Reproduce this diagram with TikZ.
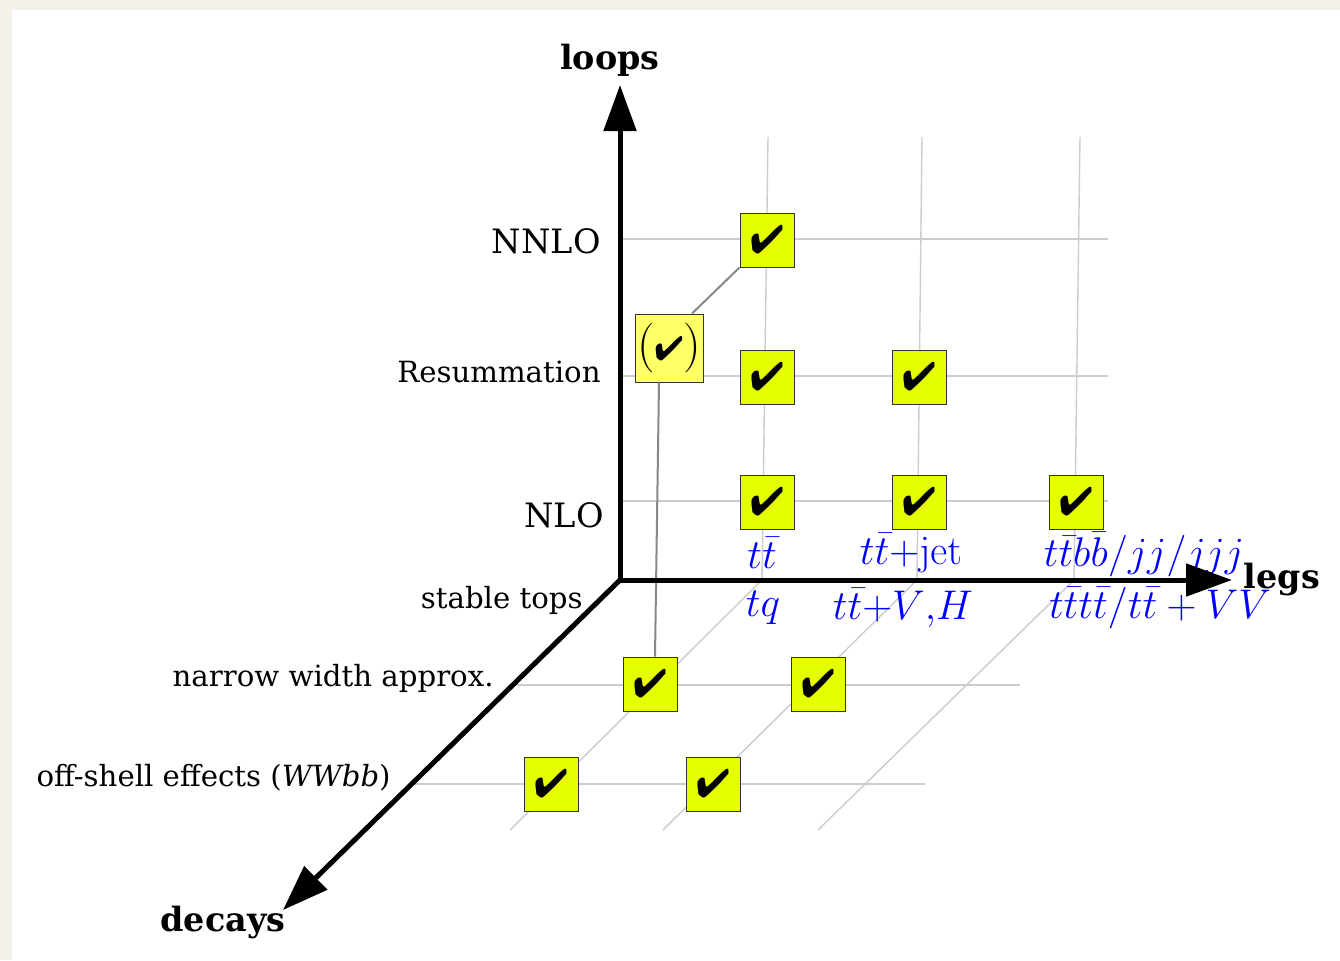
\documentclass[tikz,border=0pt]{standalone}
\usepackage[no-math]{fontspec}
\usepackage{pifont}
\setmainfont{DejaVu Serif}
\usetikzlibrary{calc,arrows.meta}

\definecolor{paper}{HTML}{F4F1EA}
\definecolor{gridgray}{HTML}{CCCCCC}
\definecolor{linkgray}{HTML}{888888}
\definecolor{tickyellow}{HTML}{E6FF00}
\definecolor{paleyellow}{HTML}{FFFF66}
\definecolor{procblue}{HTML}{0000FF}

\newcommand{\tick}{{\fontsize{20}{20}\selectfont\ding{52}}}
\newcommand{\smalltick}{{\fontsize{17}{17}\selectfont\ding{52}}}

\tikzset{
  gridline/.style={draw=gridgray, line width=0.7pt},
  axis/.style={draw=black, line width=2.5pt, -{Triangle[length=23pt,width=16pt]}},
  axislabel/.style={font=\fontsize{16.7}{19}\selectfont\bfseries, inner sep=0pt},
  levelbig/.style={font=\fontsize{16.8}{20}\selectfont, anchor=east, inner sep=0pt},
  levelsmall/.style={font=\fontsize{14.6}{17}\selectfont, anchor=east, inner sep=0pt},
  proc/.style={text=procblue, font=\fontsize{20.74}{24}\selectfont, inner sep=0pt},
  tickbox/.style={draw=black!80, line width=0.5pt, fill=tickyellow, minimum size=27pt, inner sep=0pt},
  partbox/.style={draw=black!80, line width=0.5pt, fill=paleyellow, minimum size=34pt, inner sep=0pt},
  link/.style={draw=linkgray, line width=1pt},
}

\begin{document}
\begin{tikzpicture}[x=0.5pt,y=-0.5pt]
% page
\fill[paper] (0,0) rectangle (1340,960);
\fill[white] (12,10) rectangle (1340,960);
\useasboundingbox (0,0) rectangle (1340,960);

% grid in the loops/legs plane
\draw[gridline] (620,239) -- (1108,239);
\draw[gridline] (620,376) -- (1108,376);
\draw[gridline] (620,501) -- (1108,501);
% leg columns, continued into the decays plane
\draw[gridline] (768,137) -- (762,580) -- (510,830);
\draw[gridline] (922,137) -- (917,580) -- (663,830);
\draw[gridline] (1080,137) -- (1074,580) -- (818,830);
% grid in the decays plane
\draw[gridline] (513,685) -- (1020,685);
\draw[gridline] (412,784) -- (925,784);

% level labels
\node[levelbig]   (lNNLO) at (601,241) {NNLO};
\node[levelsmall] (lRes)  at (601,372) {Resummation};
\node[levelbig]   (lNLO)  at (604,515) {NLO};
\node[levelsmall] (lST)   at (583,600) {stable tops};
\node[levelsmall] (lNWA)  at (494,678) {narrow width approx.};
\node[levelsmall] (lOS)   at (391,778) {off-shell effects (\textit{WWbb})};

% process labels
\node[proc] (pTT)   at (762,553) {$t\bar t$};
\node[proc] (pTTJ)  at (911,553) {$t\bar t{+}\mathrm{jet}$};
\node[proc] (pTTBB) at (1144,555) {$t\bar t b\bar b/jj/jjj$};
\node[proc] (pTQ)   at (763,608) {$tq$};
\node[proc] (pTTV)  at (903,608) {$t\bar t{+}V{,}H$};
\node[proc] (pTTTT) at (1160,608) {$t\bar t t\bar t/t\bar t + VV$};

% status boxes
\node[tickbox] (nnlo1) at (767,240) {\tick};
\node[tickbox] (res1)  at (767,377) {\tick};
\node[tickbox] (res2)  at (919,377) {\tick};
\node[tickbox] (nlo1)  at (767,502) {\tick};
\node[tickbox] (nlo2)  at (919,502) {\tick};
\node[tickbox] (nlo3)  at (1076,502) {\tick};
\node[partbox] (part)  at (669,348) {\fontsize{24.88}{25}\selectfont$($\smalltick$)$};
\node[tickbox] (nwa1)  at (650,684) {\tick};
\node[tickbox] (nwa2)  at (818,684) {\tick};
\node[tickbox] (os1)   at (551,784) {\tick};
\node[tickbox] (os2)   at (713,784) {\tick};

% links from the partial result
\draw[link] ($(part.north)+(23,0)$) -- (nnlo1.south west);
\draw[link] ($(part.south)+(-10,0)$) -- ($(nwa1.north)+(5,0)$);

% axes
\coordinate (O) at (620,580);
\coordinate (loopsTip) at (620,85);
\coordinate (legsTip) at (1232,580);
\coordinate (decaysTip) at (283,910);
\draw[axis] (O) -- (loopsTip);
\draw[axis] (O) -- (legsTip);
\draw[axis] (O) -- (decaysTip);
\node[axislabel] (loops)  at (610,60)  {loops};
\node[axislabel] (legs)   at (1282,580) {legs};
\node[axislabel] (decays) at (223,923) {decays};
\end{tikzpicture}
\end{document}
